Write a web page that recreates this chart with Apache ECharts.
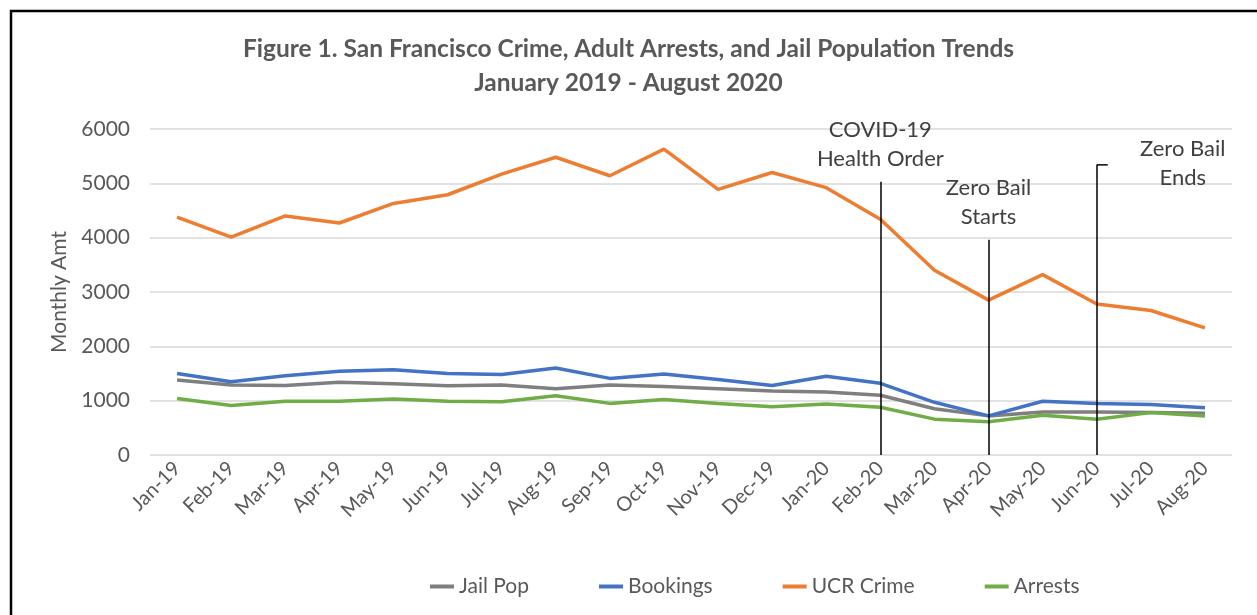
<!DOCTYPE html>
<html>
<head>
<meta charset="utf-8">
<script src="https://cdn.jsdelivr.net/npm/echarts@6/dist/echarts.min.js"></script>
<style>
  html, body { margin: 0; padding: 0; background: #fff; }
  #chart { width: 1257px; height: 615px; }
</style>
</head>
<body>
<div id="chart"></div>
<script>
const months = ['Jan-19', 'Feb-19', 'Mar-19', 'Apr-19', 'May-19', 'Jun-19', 'Jul-19', 'Aug-19', 'Sep-19', 'Oct-19',
  'Nov-19', 'Dec-19', 'Jan-20', 'Feb-20', 'Mar-20', 'Apr-20', 'May-20', 'Jun-20', 'Jul-20', 'Aug-20']
const jailPop = [1380, 1290, 1280, 1340, 1310, 1275, 1290, 1220, 1290, 1260, 1220, 1180, 1160, 1100, 850, 720, 790, 790, 780, 770]
const bookings = [1500, 1350, 1460, 1540, 1570, 1500, 1480, 1600, 1410, 1490, 1390, 1280, 1450, 1320, 970, 720, 990, 950, 930, 870]
const ucrCrime = [4380, 4010, 4400, 4270, 4630, 4790, 5170, 5480, 5140, 5630, 4890, 5200, 4920, 4340, 3400, 2850, 3320, 2780, 2660, 2340]
const arrests = [1040, 910, 990, 990, 1030, 990, 980, 1090, 950, 1020, 950, 890, 940, 880, 660, 610, 730, 660, 780, 720]
const yTicks = [0, 1000, 2000, 3000, 4000, 5000, 6000]

// event markers: category, top of the line, label
const eventCats = ['Feb-20', 'Apr-20', 'Jun-20']
const eventTops = [5030, 3960, 5340]
const eventLabels = ['COVID-19\nHealth Order', 'Zero Bail\nStarts', 'Zero Bail\nEnds']

const font = 'Lato, "Open Sans", sans-serif'
const textGrey = '#595959'

const chart = echarts.init(document.getElementById('chart'))

const lineSeries = (name, data, color) => ({
  name,
  type: 'line',
  data,
  symbol: 'none',
  lineStyle: { width: 3.5, color },
  itemStyle: { color },
})

const markSeries = lineSeries('UCR Crime', ucrCrime, '#ed7d31')
markSeries.markLine = {
  silent: true,
  symbol: ['none', 'none'],
  label: { show: false },
  lineStyle: { color: '#000', width: 1.5, type: 'solid' },
  data: eventCats.map((c, i) => [{ coord: [c, 0] }, { coord: [c, eventTops[i]] }]),
}

chart.setOption({
  animation: false,
  textStyle: { fontFamily: font },
  title: {
    text: 'Figure 1. San Francisco Crime, Adult Arrests, and Jail Population Trends\nJanuary 2019 - August 2020',
    left: 'center',
    top: 27,
    textStyle: { fontFamily: font, fontSize: 24.5, fontWeight: 'bold', color: textGrey, lineHeight: 34 },
  },
  legend: {
    left: 425,
    top: 571,
    icon: 'rect',
    itemWidth: 24,
    itemHeight: 4,
    itemGap: 70,
    textStyle: { fontFamily: font, fontSize: 21, color: textGrey },
    data: ['Jail Pop', 'Bookings', 'UCR Crime', 'Arrests'],
  },
  grid: { left: 150, right: 25, top: 129, bottom: 160 },
  xAxis: {
    type: 'category',
    data: months,
    axisLine: { show: false },
    axisTick: { show: false },
    axisLabel: { rotate: 45, margin: 10, fontSize: 20, color: textGrey, fontFamily: font, interval: 0 },
  },
  yAxis: {
    type: 'value',
    min: yTicks[0],
    max: yTicks[yTicks.length - 1],
    interval: 1000,
    name: 'Monthly Amt',
    nameLocation: 'middle',
    nameGap: 80,
    nameTextStyle: { fontSize: 21, color: textGrey, fontFamily: font },
    axisLabel: { fontSize: 21, color: textGrey, margin: 20, fontFamily: font, formatter: (v) => String(v) },
    splitLine: { lineStyle: { color: '#d9d9d9', width: 1.5 } },
  },
  series: [
    lineSeries('Jail Pop', jailPop, '#7f7f7f'),
    lineSeries('Bookings', bookings, '#4472c4'),
    markSeries,
    lineSeries('Arrests', arrests, '#70ad47'),
  ],
})

// labels for the event markers, placed from the axis scales
const labelShift = [[0, -37], [0, -37], [86, -1]]
const graphic = [
  {
    type: 'rect',
    shape: { x: 11, y: 11, width: 1400, height: 800 },
    style: { fill: 'none', stroke: '#000', lineWidth: 2.5 },
  },
]
eventCats.forEach((c, i) => {
  const p = chart.convertToPixel({ seriesIndex: 2 }, [c, eventTops[i]])
  graphic.push({
    type: 'text',
    x: p[0] + labelShift[i][0],
    y: p[1] + labelShift[i][1],
    style: {
      text: eventLabels[i],
      fontFamily: font,
      fontSize: 22,
      lineHeight: 29,
      fill: '#404040',
      align: 'center',
      verticalAlign: 'middle',
    },
  })
})
const endTop = chart.convertToPixel({ seriesIndex: 2 }, [eventCats[2], eventTops[2]])
graphic.push({
  type: 'line',
  shape: { x1: endTop[0], y1: endTop[1], x2: endTop[0] + 11, y2: endTop[1] },
  style: { stroke: '#000', lineWidth: 1.5 },
})
chart.setOption({ graphic })
</script>
</body>
</html>
